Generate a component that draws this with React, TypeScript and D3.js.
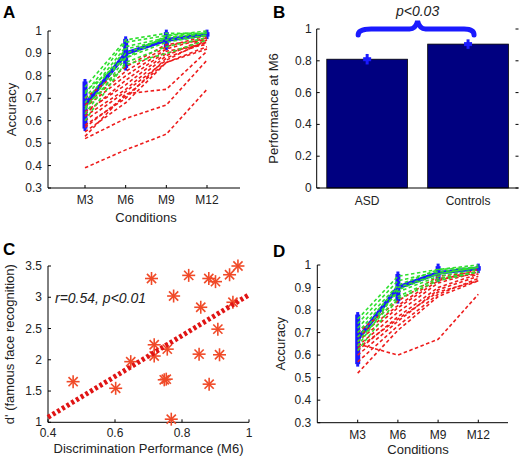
import React from "react";
import * as d3 from "d3";

const conditions = ["M3", "M6", "M9", "M12"];
const accTicks = [0.3, 0.4, 0.5, 0.6, 0.7, 0.8, 0.9, 1];

// Panel A
const redA: number[][] = [
  [0.39, 0.47, 0.54, 0.74],
  [0.52, 0.61, 0.67, 0.87],
  [0.53, 0.72, 0.74, 0.91],
  [0.55, 0.68, 0.86, 0.93],
  [0.58, 0.70, 0.88, 0.95],
  [0.60, 0.73, 0.87, 0.96],
  [0.62, 0.74, 0.89, 0.97],
  [0.64, 0.76, 0.90, 0.95],
  [0.66, 0.80, 0.92, 0.97],
  [0.67, 0.82, 0.93, 0.98],
  [0.70, 0.84, 0.94, 0.96],
  [0.63, 0.78, 0.91, 0.94],
  [0.57, 0.71, 0.86, 0.92],
];
const greenA: number[][] = [
  [0.75, 0.96, 0.99, 0.99],
  [0.72, 0.95, 0.98, 1.0],
  [0.70, 0.93, 0.97, 0.99],
  [0.68, 0.92, 0.96, 0.98],
  [0.65, 0.90, 0.97, 0.99],
  [0.63, 0.88, 0.95, 0.98],
  [0.60, 0.86, 0.93, 0.97],
  [0.66, 0.85, 0.90, 0.96],
  [0.73, 0.88, 0.98, 0.99],
];
const meanA = [0.67, 0.9, 0.96, 0.985];
const errA = [0.105, 0.065, 0.035, 0.01];

// Panel D
const redD: number[][] = [
  [0.65, 0.60, 0.67, 0.87],
  [0.52, 0.71, 0.86, 0.93],
  [0.57, 0.73, 0.87, 0.94],
  [0.60, 0.75, 0.89, 0.95],
  [0.62, 0.77, 0.90, 0.96],
  [0.64, 0.79, 0.92, 0.97],
  [0.66, 0.81, 0.93, 0.98],
  [0.68, 0.82, 0.94, 0.96],
  [0.70, 0.84, 0.95, 0.97],
  [0.63, 0.76, 0.88, 0.93],
];
const greenD: number[][] = [
  [0.76, 0.95, 0.98, 1.0],
  [0.74, 0.93, 0.97, 0.99],
  [0.72, 0.91, 0.98, 0.99],
  [0.70, 0.90, 0.96, 0.99],
  [0.68, 0.88, 0.95, 0.98],
  [0.66, 0.86, 0.94, 0.97],
  [0.62, 0.85, 0.93, 0.97],
  [0.64, 0.89, 0.96, 0.99],
];
const meanD = [0.67, 0.9, 0.965, 0.985];
const errD = [0.11, 0.06, 0.03, 0.01];

// Panel B
const groups = ["ASD", "Controls"];
const groupPerf = [0.81, 0.905];
const groupErr = [0.033, 0.03];
const perfTicks = [0, 0.2, 0.4, 0.6, 0.8, 1];
const pText = "p<0.03";

// Panel C
const discrim = [0.475, 0.602, 0.647, 0.709, 0.717, 0.717, 0.747, 0.753, 0.756, 0.768, 0.775, 0.82, 0.851, 0.856, 0.88, 0.881, 0.9, 0.907, 0.912, 0.942, 0.952, 0.967];
const dprime = [1.65, 1.544, 1.97, 3.3, 2.24, 2.06, 1.68, 1.69, 2.17, 1.05, 3.02, 3.35, 2.09, 2.84, 3.3, 1.61, 3.25, 2.49, 2.08, 3.36, 2.92, 3.5];
const fitX = [0.4, 1];
const fitY = [1.08, 3.04];
const cXTicks = [0.4, 0.6, 0.8, 1];
const cYTicks = [1, 1.5, 2, 2.5, 3, 3.5];
const rText = "r=0.54, p<0.01";

const FONT = "'Liberation Sans', Arial, Helvetica, sans-serif";
const RED = "#ee1c1c";
const GREEN = "#2ee02e";
const BLUE = "#1a1aff";

function fmt(v: number) {
  return String(+v.toFixed(2));
}

function LinePanel({ x0, x1, y0, y1, xM3, xM12, red, green, mean, err, label, lx, ly, titleOff }: any) {
  const x = d3.scaleLinear().domain([1, 4]).range([xM3, xM12]);
  const y = d3.scaleLinear().domain([0.3, 1]).range([y1, y0]);
  const line = d3.line<number>().x((_, i) => x(i + 1)).y((d) => y(d));
  const fs = 12;
  return (
    <g fontFamily={FONT}>
      <text x={lx} y={ly} fontSize={17} fontWeight="bold">{label}</text>
      <path d={line(mean) as string} fill="none" stroke={BLUE} strokeWidth={4} />
      {mean.map((m: number, i: number) => (
        <g key={"e" + i} stroke={BLUE}>
          <line x1={x(i + 1)} x2={x(i + 1)} y1={y(m - err[i])} y2={y(m + err[i])} strokeWidth={5} />
          <line x1={x(i + 1) - 1.5} x2={x(i + 1) + 1.5} y1={y(m - err[i]) + 1} y2={y(m - err[i]) + 1} strokeWidth={3} />
          <line x1={x(i + 1) - 1.5} x2={x(i + 1) + 1.5} y1={y(m + err[i]) - 1} y2={y(m + err[i]) - 1} strokeWidth={3} />
        </g>
      ))}
      {red.map((s: number[], i: number) => (
        <path key={"r" + i} d={line(s) as string} fill="none" stroke={RED} strokeWidth={1.6} strokeDasharray="3.5,2.5" />
      ))}
      {green.map((s: number[], i: number) => (
        <path key={"g" + i} d={line(s) as string} fill="none" stroke={GREEN} strokeWidth={1.6} strokeDasharray="3.5,2.5" />
      ))}
      <line x1={x0} x2={x0} y1={y0} y2={y1} stroke="#000" strokeWidth={1} />
      <line x1={x0} x2={x1} y1={y1} y2={y1} stroke="#000" strokeWidth={1} />
      {accTicks.map((t) => (
        <g key={"yt" + t}>
          <line x1={x0} x2={x0 + 3} y1={y(t)} y2={y(t)} stroke="#000" />
          <text x={x0 - 6} y={y(t) + 4} fontSize={fs} textAnchor="end" fill="#222">{fmt(t)}</text>
        </g>
      ))}
      {conditions.map((c, i) => (
        <g key={"xt" + c}>
          <line x1={x(i + 1)} x2={x(i + 1)} y1={y1} y2={y1 - 3} stroke="#000" />
          <text x={x(i + 1)} y={y1 + 16} fontSize={fs} textAnchor="middle" fill="#222">{c}</text>
        </g>
      ))}
      <text x={(xM3 + xM12) / 2} y={y1 + titleOff} fontSize={13} textAnchor="middle" fill="#222">Conditions</text>
      <text transform={`translate(${x0 - 32},${(y0 + y1) / 2}) rotate(-90)`} fontSize={13} textAnchor="middle" fill="#222">Accuracy</text>
    </g>
  );
}

function BarPanel() {
  const x0 = 316.7, x1 = 518.5, y0 = 29, y1 = 188;
  const x = d3.scaleLinear().domain([0.5, 2.5]).range([x0, x1]);
  const y = d3.scaleLinear().domain([0, 1]).range([y1, y0]);
  const bw = (x(2) - x(1)) * 0.8;
  return (
    <g fontFamily={FONT}>
      <text x={273} y={18} fontSize={17} fontWeight="bold">B</text>
      {groups.map((g, i) => (
        <rect key={g} x={x(i + 1) - bw / 2} y={y(groupPerf[i])} width={bw} height={y1 - y(groupPerf[i])} fill="#000080" stroke="#000" strokeWidth={0.8} />
      ))}
      {groups.map((g, i) => (
        <g key={"e" + g} stroke={BLUE}>
          <line x1={x(i + 1)} x2={x(i + 1)} y1={y(groupPerf[i] - groupErr[i])} y2={y(groupPerf[i] + groupErr[i])} strokeWidth={3} />
          <line x1={x(i + 1) - 4} x2={x(i + 1) + 4} y1={y(groupPerf[i])} y2={y(groupPerf[i])} strokeWidth={4} />
        </g>
      ))}
      <line x1={x0} x2={x0} y1={y0} y2={y1} stroke="#000" />
      <line x1={x0} x2={x1} y1={y1} y2={y1} stroke="#000" />
      {perfTicks.map((t) => (
        <g key={"t" + t}>
          <line x1={x0} x2={x0 + 3} y1={y(t)} y2={y(t)} stroke="#000" />
          <line x1={x1 - 3} x2={x1} y1={y(t)} y2={y(t)} stroke="#000" />
          <text x={x0 - 5} y={y(t) + 4} fontSize={12} textAnchor="end" fill="#222">{fmt(t)}</text>
        </g>
      ))}
      {groups.map((g, i) => (
        <text key={"l" + g} x={x(i + 1)} y={y1 + 17} fontSize={12} textAnchor="middle" fill="#222">{g}</text>
      ))}
      <text transform={`translate(${x0 - 39},${(y0 + y1) / 2}) rotate(-90)`} fontSize={13} textAnchor="middle" fill="#222">Performance at M6</text>
      <path d={`M ${x(1) - 9} 35 Q ${x(1) - 9} 29 ${x(1) + 4} 29 L ${x(1.5) - 8} 29 Q ${x(1.5) - 2} 29 ${x(1.5)} 21 Q ${x(1.5) + 2} 29 ${x(1.5) + 8} 29 L ${x(2) - 4} 29 Q ${x(2) + 6} 29 ${x(2) + 6} 35`} fill="none" stroke={BLUE} strokeWidth={5} strokeLinecap="round" />
      <text x={x(1.5)} y={16} fontSize={14} fontStyle="italic" textAnchor="middle" fill="#222">{pText}</text>
    </g>
  );
}

function Star({ cx, cy }: { cx: number; cy: number }) {
  const r = 6.5;
  const d = r * 0.707;
  return (
    <g stroke="#f04a28" strokeWidth={1.6}>
      <line x1={cx - r} x2={cx + r} y1={cy} y2={cy} />
      <line x1={cx} x2={cx} y1={cy - r} y2={cy + r} />
      <line x1={cx - d} x2={cx + d} y1={cy - d} y2={cy + d} />
      <line x1={cx - d} x2={cx + d} y1={cy + d} y2={cy - d} />
    </g>
  );
}

function ScatterPanel() {
  const x0 = 48, x1 = 249, y0 = 266, y1 = 422.3;
  const x = d3.scaleLinear().domain([0.4, 1]).range([x0, x1]);
  const y = d3.scaleLinear().domain([1, 3.5]).range([y1, y0]);
  return (
    <g fontFamily={FONT}>
      <text x={3} y={255} fontSize={17} fontWeight="bold">C</text>
      <line x1={x0} x2={x0} y1={y0} y2={y1} stroke="#000" />
      <line x1={x0} x2={x1} y1={y1} y2={y1} stroke="#000" />
      {cYTicks.map((t) => (
        <g key={"y" + t}>
          <line x1={x0} x2={x0 + 3} y1={y(t)} y2={y(t)} stroke="#000" />
          <text x={x0 - 6} y={y(t) + 4} fontSize={12} textAnchor="end" fill="#222">{fmt(t)}</text>
        </g>
      ))}
      {cXTicks.map((t) => (
        <g key={"x" + t}>
          <line x1={x(t)} x2={x(t)} y1={y1} y2={y1 - 3} stroke="#000" />
          <text x={x(t)} y={y1 + 15} fontSize={12} textAnchor="middle" fill="#222">{fmt(t)}</text>
        </g>
      ))}
      {discrim.map((v, i) => (
        <Star key={i} cx={x(v)} cy={y(dprime[i])} />
      ))}
      <line x1={x(fitX[0])} y1={y(fitY[0])} x2={x(fitX[1])} y2={y(fitY[1])} stroke="#e01414" strokeWidth={5} strokeDasharray="3,2.5" />
      <text x={55} y={303} fontSize={14} fontStyle="italic" fill="#222">{rText}</text>
      <text x={(x0 + x1) / 2} y={453} fontSize={13} textAnchor="middle" fill="#222">Discrimination Performance (M6)</text>
      <text transform={`translate(14,${(y0 + y1) / 2}) rotate(-90)`} fontSize={13} textAnchor="middle" fill="#222">d' (famous face recognition)</text>
    </g>
  );
}

export default function App() {
  return (
    <svg width={523} height={458} style={{ position: "absolute", left: 0, top: 0, background: "#fff" }}>
      <rect width={523} height={458} fill="#fff" />
      <LinePanel x0={48} x1={240} y0={31} y1={188} xM3={85} xM12={207} red={redA} green={greenA} mean={meanA} err={errA} label="A" lx={3} ly={18} titleOff={34} />
      <BarPanel />
      <ScatterPanel />
      <LinePanel x0={317.3} x1={508} y0={265} y1={422.7} xM3={357.7} xM12={478.3} red={redD} green={greenD} mean={meanD} err={errD} label="D" lx={273} ly={257} titleOff={31.5} />
    </svg>
  );
}
